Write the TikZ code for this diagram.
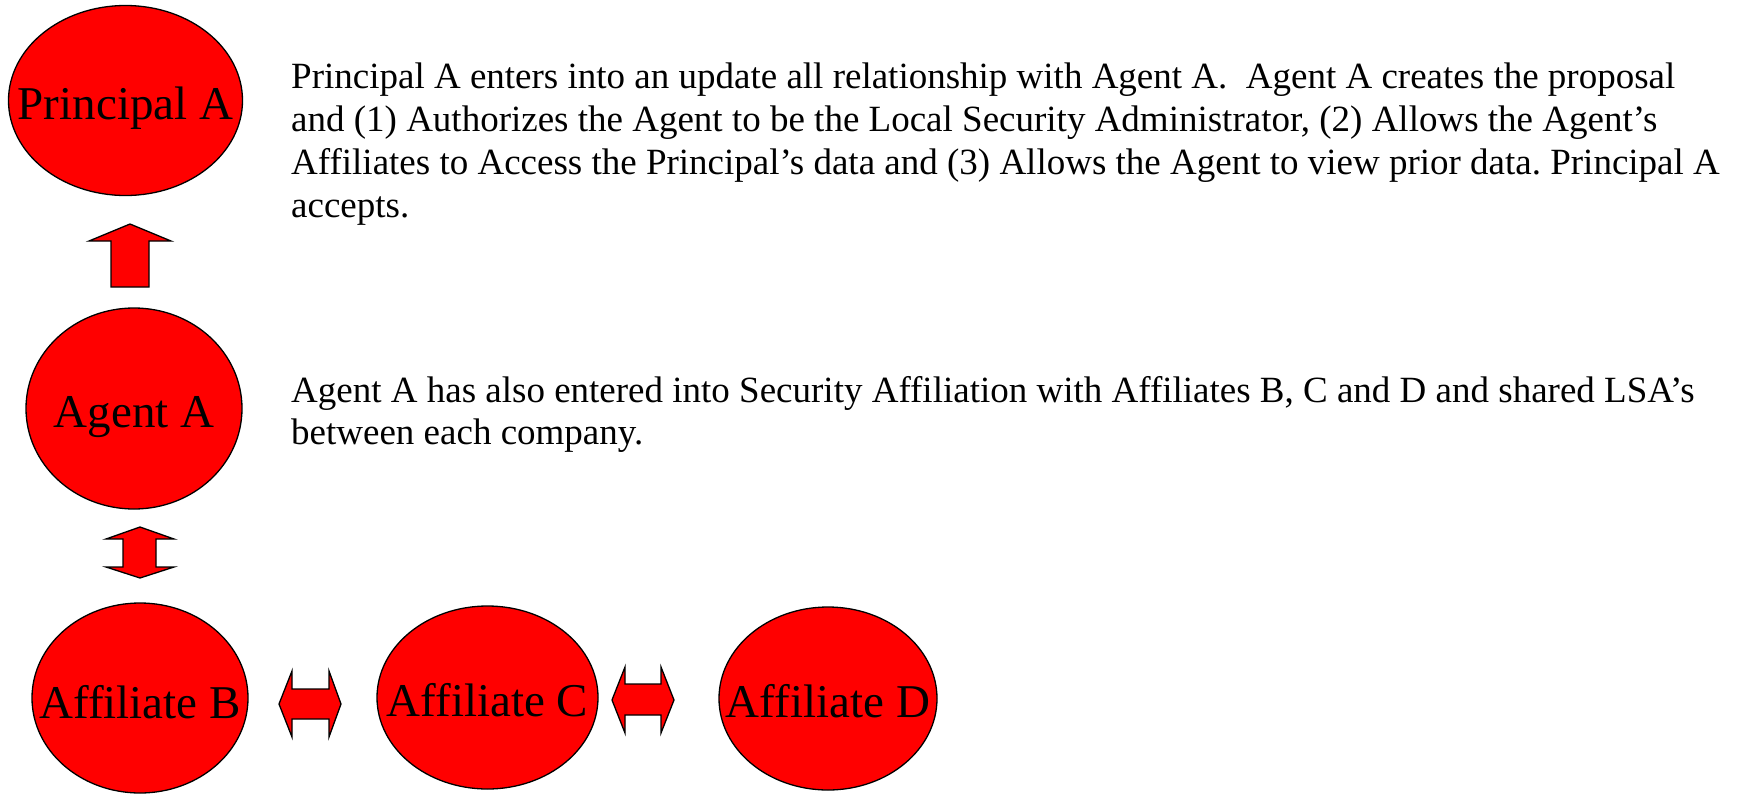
\documentclass[tikz,border=0pt]{standalone}
\usepackage{fontspec}
\setmainfont{Liberation Serif}
\usetikzlibrary{shapes.geometric,calc}
\tikzset{
  oval/.style={ellipse, draw=black, fill=red, line width=1.3pt, inner sep=0pt},
  lbl/.style={inner sep=0pt, anchor=base, font=\fontsize{47}{54}\selectfont},
  para/.style={inner sep=0pt, anchor=base west, font=\fontsize{37}{43}\selectfont},
  blockarrow/.style={draw=black, fill=red, line width=1.3pt, line join=miter}
}
\begin{document}
\frenchspacing
\begin{tikzpicture}[x=1pt, y=-1pt]
\path[use as bounding box] (0,0) rectangle (1742,795);

% ellipses
\node[oval, minimum width=234pt, minimum height=190pt] (pa) at (125.5,100.5) {};
\node[oval, minimum width=216pt, minimum height=201pt] (aa) at (134,408.5) {};
\node[oval, minimum width=216pt, minimum height=190pt] (ab) at (140,698) {};
\node[oval, minimum width=221pt, minimum height=183pt] (ac) at (487.5,697.5) {};
\node[oval, minimum width=218pt, minimum height=183pt] (ad) at (828,698.5) {};

% labels
\node[lbl] (tpa) at ($(pa.center)+(0,18.5)$) {Principal A};
\node[lbl] (taa) at ($(aa.center)+(0,18.5)$) {Agent A};
\node[lbl] (tab) at ($(ab.center)+(0,20)$) {Affiliate B};
\node[lbl] (tac) at ($(ac.center)+(0,18.5)$) {Affiliate C};
\node[lbl] (tad) at ($(ad.center)+(0,18.5)$) {Affiliate D};

% block arrows
\draw[blockarrow] (111,287) -- (111,241) -- (89,241) -- (130,224) -- (171,241) -- (149,241) -- (149,287) -- cycle;
\draw[blockarrow] (140,527) -- (174,539) -- (156,539) -- (156,567) -- (174,567) -- (140,578) -- (106,567) -- (123,567) -- (123,539) -- (106,539) -- cycle;
\draw[blockarrow] (279,704) -- (292,671) -- (292,689) -- (329,689) -- (329,671) -- (341,704) -- (329,737) -- (329,719) -- (292,719) -- (292,737) -- cycle;
\draw[blockarrow] (612,700) -- (625,667) -- (625,684) -- (661,684) -- (661,667) -- (674,700) -- (661,733) -- (661,715) -- (625,715) -- (625,733) -- cycle;

% texts
\node[para] (t1a) at (291,88) {Principal A enters into an update all relationship with Agent A.~ Agent A creates the proposal};
\node[para] (t1b) at ($(t1a.base west)+(0,43)$) {and (1) Authorizes the Agent to be the Local Security Administrator, (2) Allows the Agent’s};
\node[para] (t1c) at ($(t1b.base west)+(0,43)$) {Affiliates to Access the Principal’s data and (3) Allows the Agent to view prior data. Principal A};
\node[para] (t1d) at ($(t1c.base west)+(0,43)$) {accepts.};
\node[para] (t2a) at (291,402) {Agent A has also entered into Security Affiliation with Affiliates B, C and D and shared LSA’s};
\node[para] (t2b) at ($(t2a.base west)+(0,42)$) {between each company.};
\end{tikzpicture}
\end{document}
